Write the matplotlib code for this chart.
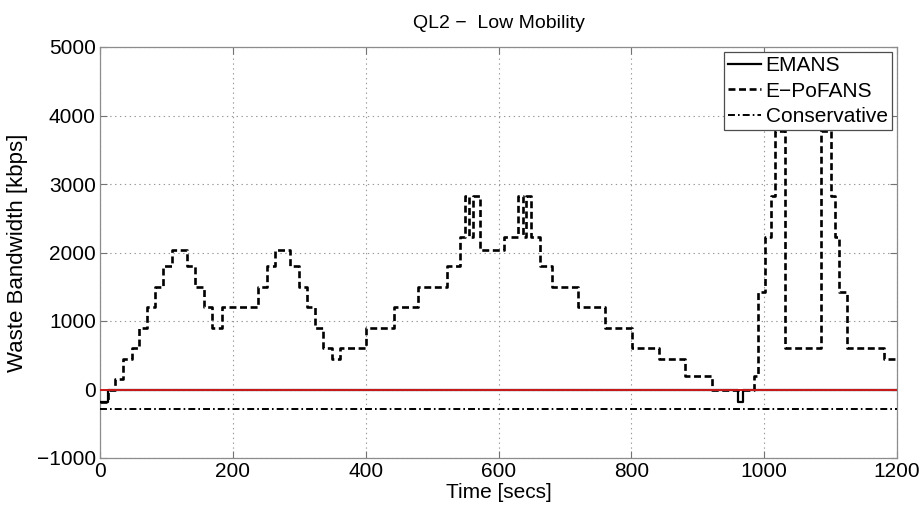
import matplotlib
matplotlib.use("Agg")
import matplotlib.pyplot as plt
import numpy as np

plt.rcParams['font.family'] = ['Liberation Sans', 'DejaVu Sans']
plt.rcParams['lines.scale_dashes'] = False

# ---- data ----
title = "QL2 \u2212  Low Mobility"
xlabel = "Time [secs]"
ylabel = "Waste Bandwidth [kbps]"
series_names = ["EMANS", "E\u2212PoFANS", "Conservative"]

emans_t = [0, 12, 960, 968, 1200]
emans_v = [-180, 0, -180, 0, 0]

epofans_t = [0, 12, 22, 34, 48, 59, 71, 83, 95, 108, 131, 143, 156, 168, 183,
             238, 251, 264, 286, 299, 311, 324, 336, 349, 361, 401, 442, 479,
             522, 542, 550, 555, 561, 572, 608, 630, 637, 641, 649, 663, 680,
             720, 760, 801, 841, 881, 921, 984, 991, 1001, 1010, 1017, 1032,
             1085, 1100, 1106, 1112, 1125, 1180, 1200]
epofans_v = [-180, 0, 160, 450, 600, 900, 1200, 1500, 1800, 2030, 1800, 1500, 1200, 900, 1200,
             1500, 1800, 2030, 1800, 1500, 1200, 900, 600, 450, 600, 900, 1200, 1500,
             1800, 2230, 2830, 2230, 2830, 2030, 2230, 2830, 2230, 2830, 2230, 1800, 1500,
             1200, 900, 600, 450, 190, 0, 190, 1420, 2230, 2830, 3780, 600,
             3780, 2830, 2230, 1420, 600, 450, 450]

conservative_t = [0, 1200]
conservative_v = [-280, -280]

zero_t = [0, 1200]
zero_v = [0, 0]

xticks = [0, 200, 400, 600, 800, 1000, 1200]
yticks = [-1000, 0, 1000, 2000, 3000, 4000, 5000]

# ---- figure ----
fig = plt.figure(figsize=(9.23, 5.07), dpi=100)
ax = fig.add_axes([100/923, 1-458/507, 797/923, 411/507])

l1, = ax.plot(emans_t, emans_v, color='black', lw=1.6, drawstyle='steps-post', zorder=3)
l2, = ax.plot(epofans_t, epofans_v, color='black', lw=1.9, drawstyle='steps-post',
              dashes=(5, 2.6), zorder=4)
l3, = ax.plot(conservative_t, conservative_v, color='black', lw=1.4,
              dashes=(5, 2.2, 1.2, 2.2), zorder=3)
ax.plot(zero_t, zero_v, color='#cc1a1a', lw=1.4, zorder=5)

ax.set_xlim(0, 1200)
ax.set_ylim(-1000, 5000)
ax.set_xticks(xticks)
ax.set_yticks(yticks)
ax.set_xticklabels([str(v) for v in xticks])
ax.set_yticklabels([("\u2212" + str(-v)) if v < 0 else str(v) for v in yticks])

ax.grid(True, linestyle=(0, (1, 2.5)), color='0.6', lw=0.8)
ax.tick_params(direction='in', top=True, right=True, length=5, width=0.8,
               colors='0.45', labelcolor='black', labelsize=15, pad=3)
for s in ax.spines.values():
    s.set_color('0.55')
    s.set_linewidth(0.9)

ax.set_xlabel(xlabel, fontsize=15, labelpad=1)
ax.set_ylabel(ylabel, fontsize=16, labelpad=6)
ax.set_title(title, fontsize=14, pad=14)

leg = ax.legend([l1, l2, l3], series_names, loc='upper right', fontsize=15,
                frameon=True, fancybox=False, framealpha=1, edgecolor='0.3',
                borderaxespad=0.25, handlelength=1.6, handletextpad=0.2,
                labelspacing=0.3, borderpad=0.2)
leg.get_frame().set_linewidth(0.9)

fig.savefig("out.png", dpi=100)
